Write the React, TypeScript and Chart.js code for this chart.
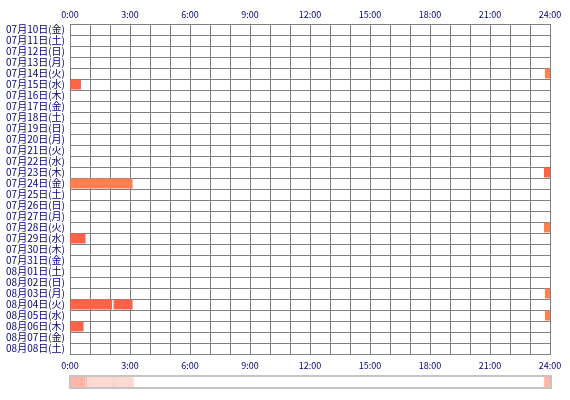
import React, { useEffect, useRef } from 'react';
import { Chart, registerables } from 'chart.js';

Chart.register(...registerables);

const days = [
  '07月10日(金)', '07月11日(土)', '07月12日(日)', '07月13日(月)', '07月14日(火)',
  '07月15日(水)', '07月16日(木)', '07月17日(金)', '07月18日(土)', '07月19日(日)',
  '07月20日(月)', '07月21日(火)', '07月22日(水)', '07月23日(木)', '07月24日(金)',
  '07月25日(土)', '07月26日(日)', '07月27日(月)', '07月28日(火)', '07月29日(水)',
  '07月30日(木)', '07月31日(金)', '08月01日(土)', '08月02日(日)', '08月03日(月)',
  '08月04日(火)', '08月05日(水)', '08月06日(木)', '08月07日(金)', '08月08日(土)',
];

// sessions (hours of day)
const segDay = [
  '07月14日(火)', '07月15日(水)', '07月23日(木)', '07月24日(金)', '07月28日(火)',
  '07月29日(水)', '08月03日(月)', '08月04日(火)', '08月04日(火)', '08月05日(水)',
  '08月06日(木)',
];
const segStart = [23.75, 0, 23.7, 0, 23.7, 0, 23.75, 0, 2.18, 23.75, 0];
const segEnd = [24, 0.55, 24, 3.13, 24, 0.78, 24, 2.1, 3.13, 24, 0.68];
const segKind = [1, 0, 0, 1, 1, 0, 1, 0, 0, 1, 0];

const hourMin = 0;
const hourMax = 24;

const KIND_COLORS = ['#FF6347', '#FF7F50'];
const GRID = '#808080';
const LABEL = '#000080';
const FONT = '"Noto Sans CJK JP", "Noto Sans", sans-serif';

const hourLabel = (v: number) => (v % 3 === 0 ? `${v}:00` : '');

function buildStrip() {
  const pts = Array.from(new Set([hourMin, hourMax, ...segStart, ...segEnd])).sort((a, b) => a - b);
  const data: { x: [number, number]; y: string }[] = [];
  const colors: string[] = [];
  for (let i = 0; i < pts.length - 1; i++) {
    const a = pts[i];
    const b = pts[i + 1];
    const mid = (a + b) / 2;
    let count = 0;
    for (let j = 0; j < segStart.length; j++) {
      if (segStart[j] <= mid && mid < segEnd[j]) count++;
    }
    if (count > 0) {
      data.push({ x: [a, b], y: 'all' });
      colors.push(`rgba(255,99,71,${(0.1 + 0.075 * count).toFixed(3)})`);
    }
  }
  return { data, colors };
}

export default function App() {
  const mainRef = useRef<HTMLCanvasElement>(null);
  const stripRef = useRef<HTMLCanvasElement>(null);

  useEffect(() => {
    const xTicks = {
      stepSize: 1,
      autoSkip: false,
      maxRotation: 0,
      minRotation: 0,
      color: LABEL,
      font: { family: FONT, size: 9 },
      callback: (v: any) => hourLabel(Number(v)),
    };
    const main = new Chart(mainRef.current!, {
      type: 'bar',
      data: {
        labels: days,
        datasets: [
          {
            data: segDay.map((d, i) => ({ y: d, x: [segStart[i], segEnd[i]] })) as any,
            backgroundColor: segKind.map((k) => KIND_COLORS[k]),
            borderWidth: 0,
            barPercentage: 0.9,
            categoryPercentage: 1,
            grouped: false,
          },
        ],
      },
      options: {
        indexAxis: 'y',
        responsive: false,
        animation: false,
        devicePixelRatio: 1,
        layout: { padding: { left: 0, right: 20, top: 0, bottom: 0 } },
        plugins: { legend: { display: false }, tooltip: { enabled: false } },
        scales: {
          y: {
            type: 'category',
            position: 'left',
            grid: { color: GRID, drawTicks: false, offset: true },
            border: { color: GRID },
            ticks: {
              autoSkip: false,
              padding: 5,
              color: LABEL,
              font: { family: FONT, size: 10 },
            },
            afterFit: (s: any) => {
              s.width = 70;
            },
          },
          x: {
            type: 'linear',
            position: 'bottom',
            min: hourMin,
            max: hourMax,
            grid: { color: GRID, drawTicks: false },
            border: { color: GRID },
            ticks: { ...xTicks, padding: 6 },
            afterFit: (s: any) => {
              s.height = 18;
            },
          },
          x2: {
            type: 'linear',
            position: 'top',
            min: hourMin,
            max: hourMax,
            grid: { drawOnChartArea: false, drawTicks: false },
            border: { color: GRID },
            ticks: { ...xTicks, padding: 4 },
            afterFit: (s: any) => {
              s.height = 24;
            },
          },
        },
      } as any,
    });

    const strip = buildStrip();
    const stripChart = new Chart(stripRef.current!, {
      type: 'bar',
      data: {
        labels: ['all'],
        datasets: [
          {
            data: strip.data as any,
            backgroundColor: strip.colors,
            borderWidth: 0,
            barPercentage: 1,
            categoryPercentage: 1,
            grouped: false,
          },
        ],
      },
      options: {
        indexAxis: 'y',
        responsive: false,
        animation: false,
        devicePixelRatio: 1,
        layout: { padding: 0 },
        plugins: { legend: { display: false }, tooltip: { enabled: false } },
        scales: {
          x: { type: 'linear', min: hourMin, max: hourMax, display: false },
          y: { type: 'category', display: false },
        },
      } as any,
    });

    return () => {
      main.destroy();
      stripChart.destroy();
    };
  }, []);

  return (
    <div style={{ position: 'absolute', left: 0, top: 0, width: 570, height: 400, background: '#fff' }}>
      <canvas
        ref={mainRef}
        width={570}
        height={372}
        style={{ position: 'absolute', left: 0, top: 0, width: 570, height: 372 }}
      />
      <div
        style={{
          position: 'absolute',
          left: 69,
          top: 375,
          width: 483,
          height: 14,
          boxSizing: 'border-box',
          border: '2px solid #c4c4c4',
        }}
      >
        <canvas ref={stripRef} width={479} height={10} style={{ display: 'block', width: 479, height: 10 }} />
      </div>
    </div>
  );
}
